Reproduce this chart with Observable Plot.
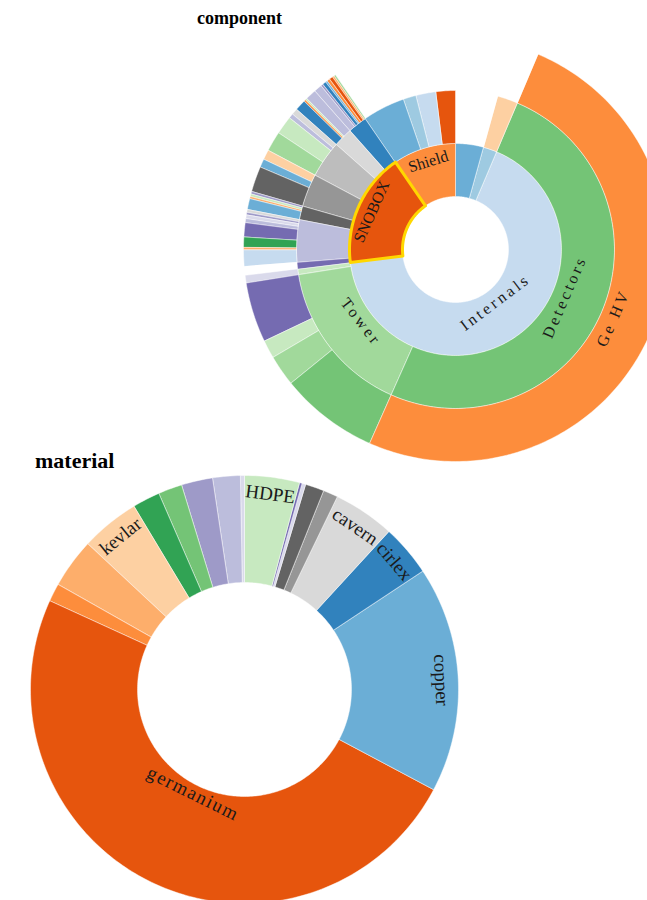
<!DOCTYPE html>
<html>
<head>
<meta charset="utf-8">
<script src="https://cdn.jsdelivr.net/npm/d3@7"></script>
<script src="https://cdn.jsdelivr.net/npm/@observablehq/plot@0.6"></script>
<style>
  body { margin: 0; background: #fff; }
  #wrap { position: relative; width: 647px; height: 900px; overflow: hidden; font-family: "Liberation Serif", "DejaVu Serif", serif; }
  .title { position: absolute; font-weight: bold; color: #000; white-space: nowrap; }
  #c1 { position: absolute; left: 0; top: 0; }
  #c2 { position: absolute; left: 0; top: 465px; }
</style>
</head>
<body>
<div id="wrap">
  <div id="c1"></div>
  <div id="c2"></div>
  <div class="title" style="left:197px;top:9px;font-size:18px;line-height:18px;">component</div>
  <div class="title" style="left:35px;top:450px;font-size:22px;line-height:22px;">material</div>
</div>
<script>
// category20c palette
const palette = ["#3182bd","#6baed6","#9ecae1","#c6dbef","#e6550d","#fd8d3c","#fdae6b","#fdd0a2",
                 "#31a354","#74c476","#a1d99b","#c7e9c0","#756bb1","#9e9ac8","#bcbddc","#dadaeb",
                 "#636363","#969696","#bdbdbd","#d9d9d9"];

// ---------- component hierarchy (paths, leaf values, colour index) ----------
const compPath = [
  "Cryostat",
  "Electronics", "Electronics/Cables",
  "Internals",
  "Internals/Detectors", "Internals/Detectors/Ge HV",
  "Internals/Tower", "Internals/Tower/Housings", "Internals/Tower/Stages", "Internals/Tower/Struts", "Internals/Tower/Wiring",
  "Internals/Wires", "Internals/Wires/Connectors",
  "SNOBOX",
  "SNOBOX/Bolts",
  "SNOBOX/Can 1", "SNOBOX/Can 1/a", "SNOBOX/Can 1/b", "SNOBOX/Can 1/c", "SNOBOX/Can 1/d", "SNOBOX/Can 1/e", "SNOBOX/Can 1/f", "SNOBOX/Can 1/g", "SNOBOX/Can 1/h",
  "SNOBOX/Can 2", "SNOBOX/Can 2/a", "SNOBOX/Can 2/b", "SNOBOX/Can 2/c", "SNOBOX/Can 2/d",
  "SNOBOX/Can 3", "SNOBOX/Can 3/a", "SNOBOX/Can 3/b", "SNOBOX/Can 3/c",
  "SNOBOX/Can 4", "SNOBOX/Can 4/a", "SNOBOX/Can 4/b", "SNOBOX/Can 4/c", "SNOBOX/Can 4/d",
  "SNOBOX/Can 5", "SNOBOX/Can 5/a", "SNOBOX/Can 5/b", "SNOBOX/Can 5/c", "SNOBOX/Can 5/d",
  "SNOBOX/Can 6", "SNOBOX/Can 6/a", "SNOBOX/Can 6/b", "SNOBOX/Can 6/c", "SNOBOX/Can 6/d", "SNOBOX/Can 6/e", "SNOBOX/Can 6/f", "SNOBOX/Can 6/g", "SNOBOX/Can 6/h",
  "Shield", "Shield/Copper", "Shield/Lead", "Shield/Poly", "Shield/Water"
];
const compValue = [
  15.5,
  0, 7.5,
  0,
  0, 181,
  0, 27, 8.5, 5, 16.5,
  0, 2,
  0,
  2.5,
  0, 4.5, 0.7, 2.8, 3.9, 1.1, 1.0, 0.7, 0.8,
  0, 3, 0.6, 0.7, 0.7,
  0, 7, 2.3, 2.7,
  0, 5.5, 5, 1.3, 1.7,
  0, 3, 0.5, 0.5, 3,
  0, 2.2, 0.6, 1, 0.5, 0.8, 1, 0.5, 0.4,
  0, 15.5, 4.7, 7.3, 7
];
const compColor = [
  1,
  2, 7,
  3,
  9, 5,
  10, 9, 10, 11, 12,
  11, 15,
  4,
  12,
  14, 3, 6, 8, 12, 14, 15, 13, 19,
  16, 1, 6, 11, 13,
  17, 16, 1, 7,
  18, 10, 11, 14, 19,
  19, 0, 5, 11, 14,
  0, 14, 13, 0, 1, 5, 4, 6, 10,
  5, 1, 2, 3, 4
];
const compLabels = ["Internals", "SNOBOX", "Shield", "Detectors", "Tower", "Ge HV"];
const compHighlight = ["SNOBOX"];

// ---------- material ring ----------
const matName = ["HDPE","PTFE","Vespel","aluminum","brass","cavern","cirlex","copper","germanium",
                 "gold","indium","kevlar","lead","nylon","polyethylene","stainless","titanium"];
const matValue = [15, 0.7, 1.0, 5.1, 4, 16.7, 14, 61.5, 176.6, 4.9, 13.5, 16, 7.5, 6.5, 8.5, 7.5, 1];
const matColor = [11, 12, 15, 16, 17, 19, 0, 1, 4, 5, 6, 7, 8, 9, 13, 14, 15];
const matLabels = ["HDPE", "cavern", "cirlex", "copper", "germanium", "kevlar"];

// ---------- helpers ----------
function partitionNodes(paths, values, colors) {
  const rows = paths.map((p, i) => ({
    id: p,
    parent: p.includes("/") ? p.slice(0, p.lastIndexOf("/")) : "root",
    value: values[i],
    color: palette[colors[i]],
    name: p.split("/").pop()
  }));
  rows.unshift({id: "root", parent: null, value: 0, color: "none", name: "root"});
  const root = d3.stratify().id(d => d.id).parentId(d => d.parent)(rows);
  root.sum(d => d.value);
  d3.partition().size([2 * Math.PI, root.height + 1])(root);
  return root.descendants().filter(d => d.depth > 0);
}

function arcRows(nodes, ring) {
  const out = [];
  for (const d of nodes) {
    const r0 = d.y0 * ring, r1 = d.y1 * ring;
    const n = Math.max(2, Math.ceil((d.x1 - d.x0) / (Math.PI / 180)) + 1);
    for (let k = 0; k < n; k++) {
      const a = d.x0 + (d.x1 - d.x0) * k / (n - 1);
      out.push({id: d.data.id, x: r1 * Math.sin(a), y: -r1 * Math.cos(a), color: d.data.color});
    }
    for (let k = n - 1; k >= 0; k--) {
      const a = d.x0 + (d.x1 - d.x0) * k / (n - 1);
      out.push({id: d.data.id, x: r0 * Math.sin(a), y: -r0 * Math.cos(a), color: d.data.color});
    }
  }
  return out;
}

function labelRows(nodes, labels, ring, outOff, inOff) {
  return nodes.filter(d => labels.includes(d.data.name)).map(d => {
    const a = (d.x0 + d.x1) / 2, deg = a * 180 / Math.PI;
    const flip = deg > 90 && deg < 270;
    const r = flip ? d.y0 * ring + inOff : d.y1 * ring - outOff;
    return {text: d.data.name, x: r * Math.sin(a), y: -r * Math.cos(a),
            rotate: flip ? deg - 180 : (deg > 270 ? deg - 360 : deg), flip};
  });
}

// ---------- component sunburst ----------
const compRing = 53;
const compNodes = partitionNodes(compPath, compValue, compColor);
const compArcs = arcRows(compNodes, compRing);
const compHi = arcRows(compNodes.filter(d => compHighlight.includes(d.data.id)), compRing);
const compLab = labelRows(compNodes, compLabels, compRing, 14, 13);

const p1 = Plot.plot({
  width: 647, height: 465, margin: 0,
  x: {domain: [-455, 192], range: [0, 647], axis: null},
  y: {domain: [-249, 216], range: [0, 465], axis: null},
  color: {type: "identity"},
  marks: [
    Plot.line(compArcs, {x: "x", y: "y", z: "id", fill: "color", stroke: "#ffffff", strokeWidth: 0.5, strokeOpacity: 0.9, curve: "linear-closed"}),
    Plot.line(compHi, {x: "x", y: "y", z: "id", fill: "none", stroke: "#ffd700", strokeWidth: 3, curve: "linear-closed"}),
    Plot.text(compLab, {x: "x", y: "y", text: "text", rotate: "rotate", fontSize: 16,
      fontFamily: "Liberation Serif", fill: "#1a1a1a", textAnchor: "middle", lineAnchor: "middle"})
  ]
});
const compFlip = new Set(compLab.filter(d => d.flip).map(d => d.text));
d3.select(p1).selectAll("text").filter(function() { return compFlip.has(this.textContent); })
  .style("letter-spacing", "3px");
document.getElementById("c1").appendChild(p1);

// ---------- material donut ----------
const matRing = 107;
const matNodes = partitionNodes(matName, matValue, matColor);
const matArcs = arcRows(matNodes, matRing);
const matLab = labelRows(matNodes, matLabels, matRing, 17, 9);

const p2 = Plot.plot({
  width: 647, height: 435, margin: 0,
  x: {domain: [-244, 403], range: [0, 647], axis: null},
  y: {domain: [-224, 211], range: [0, 435], axis: null},
  color: {type: "identity"},
  marks: [
    Plot.line(matArcs, {x: "x", y: "y", z: "id", fill: "color", stroke: "#ffffff", strokeWidth: 0.5, strokeOpacity: 0.9, curve: "linear-closed"}),
    Plot.text(matLab, {x: "x", y: "y", text: "text", rotate: "rotate", fontSize: 19,
      fontFamily: "Liberation Serif", fill: "#1a1a1a", textAnchor: "middle", lineAnchor: "middle"})
  ]
});
const matFlip = new Set(matLab.filter(d => d.flip).map(d => d.text));
d3.select(p2).selectAll("text").filter(function() { return matFlip.has(this.textContent); })
  .style("letter-spacing", "1.5px");
document.getElementById("c2").appendChild(p2);
</script>
</body>
</html>
